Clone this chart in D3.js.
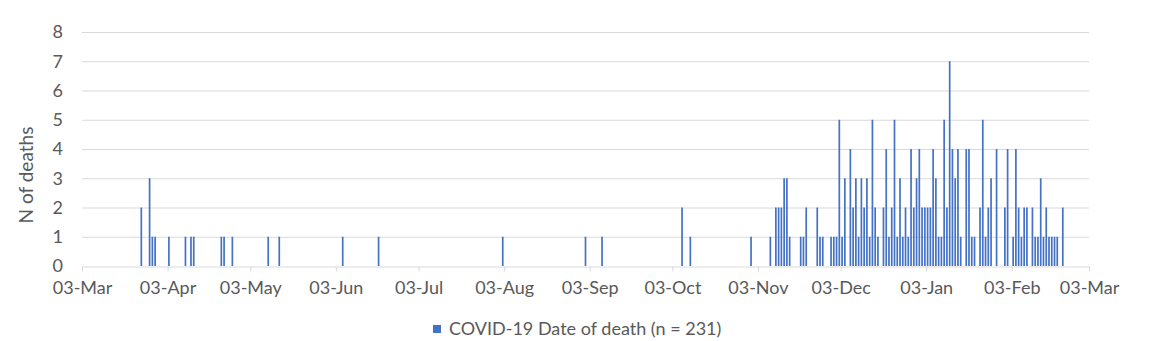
<!DOCTYPE html>
<html>
<head>
<meta charset="utf-8">
<script src="https://cdn.jsdelivr.net/npm/d3@7/dist/d3.min.js"></script>
<style>
  html, body { margin: 0; padding: 0; background: #fff; }
  svg text { font-family: Lato, "Open Sans", sans-serif; fill: #595959; }
</style>
</head>
<body>
<svg id="chart" width="1151" height="341"></svg>
<script>
// ---- data ----
const dates = [
  "2020-03-24","2020-03-27","2020-03-28","2020-03-29","2020-04-03","2020-04-09","2020-04-11","2020-04-12",
  "2020-04-22","2020-04-23","2020-04-26","2020-05-09","2020-05-13","2020-06-05","2020-06-18","2020-08-02",
  "2020-09-01","2020-09-07","2020-10-06","2020-10-09","2020-10-31",
  "2020-11-07","2020-11-09","2020-11-10","2020-11-11","2020-11-12","2020-11-13","2020-11-14","2020-11-18",
  "2020-11-19","2020-11-20","2020-11-24","2020-11-25","2020-11-26","2020-11-29","2020-11-30","2020-12-01",
  "2020-12-02","2020-12-03","2020-12-04","2020-12-06","2020-12-07","2020-12-08","2020-12-09","2020-12-10",
  "2020-12-11","2020-12-12","2020-12-13","2020-12-14","2020-12-15","2020-12-16","2020-12-18","2020-12-19",
  "2020-12-20","2020-12-21","2020-12-22","2020-12-23","2020-12-24","2020-12-25","2020-12-26","2020-12-27",
  "2020-12-28","2020-12-29","2020-12-30","2020-12-31",
  "2021-01-01","2021-01-02","2021-01-03","2021-01-04","2021-01-05","2021-01-06","2021-01-07","2021-01-08",
  "2021-01-09","2021-01-10","2021-01-11","2021-01-12","2021-01-13","2021-01-14","2021-01-15","2021-01-17",
  "2021-01-18","2021-01-19","2021-01-20","2021-01-22","2021-01-23","2021-01-24","2021-01-25","2021-01-26",
  "2021-01-28","2021-01-31","2021-02-01","2021-02-03","2021-02-04","2021-02-05","2021-02-06","2021-02-07",
  "2021-02-08","2021-02-10","2021-02-11","2021-02-12","2021-02-13","2021-02-14","2021-02-15","2021-02-16",
  "2021-02-17","2021-02-18","2021-02-19","2021-02-21"
];
const deaths = [
  2,3,1,1,1,1,1,1,
  1,1,1,1,1,1,1,1,
  1,1,2,1,1,
  1,2,2,2,3,3,1,1,
  1,2,2,1,1,1,1,1,
  5,1,3,4,2,3,1,3,
  2,3,1,5,2,1,2,4,
  1,2,5,1,3,1,2,1,
  4,2,3,4,
  2,2,2,2,4,3,1,1,
  5,2,7,4,3,4,1,4,
  4,1,1,2,5,1,2,3,
  4,2,4,1,4,2,1,2,
  2,2,1,1,3,1,2,1,
  1,1,1,2
];
const tickDates = [
  "2020-03-03","2020-04-03","2020-05-03","2020-06-03","2020-07-03","2020-08-03","2020-09-03",
  "2020-10-03","2020-11-03","2020-12-03","2021-01-03","2021-02-03","2021-03-03"
];
const yTicks = [0,1,2,3,4,5,6,7,8];
const seriesName = "COVID-19 Date of death (n = 231)";
const yTitle = "N of deaths";

// ---- chart ----
const parse = d3.utcParse("%Y-%m-%d");
const fmt = d3.utcFormat("%d-%b");
const data = dates.map((d, i) => ({ date: parse(d), value: deaths[i] }));

const svg = d3.select("#chart");
const mLeft = 82, mRight = 1089, mTop = 32, mBottom = 266;
const blue = "#4472C4", grid = "#D9D9D9";
const fs = "18px";

const x = d3.scaleUtc()
  .domain([parse(tickDates[0]), parse(tickDates[tickDates.length - 1])])
  .range([mLeft, mRight]);
const y = d3.scaleLinear().domain([0, 8]).range([mBottom, mTop]);

// gridlines
svg.append("g").selectAll("line")
  .data(yTicks.filter(v => v > 0))
  .join("line")
  .attr("x1", mLeft).attr("x2", mRight)
  .attr("y1", d => y(d) + 0.5).attr("y2", d => y(d) + 0.5)
  .attr("stroke", grid).attr("stroke-width", 1);

// y axis labels
const yAxis = d3.axisLeft(y).tickValues(yTicks).tickSize(0).tickPadding(19);
svg.append("g").attr("transform", `translate(${mLeft},0)`).call(yAxis)
  .call(g => g.select(".domain").remove())
  .call(g => g.selectAll("text").style("font-size", fs)
    .style("font-family", "Lato, 'Open Sans', sans-serif").attr("fill", "#595959"));

// bars
const halfDay = 12 * 3600 * 1000;
const bw = 1.7;
svg.append("g").selectAll("rect")
  .data(data)
  .join("rect")
  .attr("x", d => x(new Date(d.date.getTime() + halfDay)) - bw / 2)
  .attr("width", bw)
  .attr("y", d => y(d.value))
  .attr("height", d => y(0) - y(d.value))
  .attr("fill", blue);

// x axis
const xAxis = d3.axisBottom(x)
  .tickValues(tickDates.map(parse))
  .tickFormat(fmt)
  .tickSizeInner(5).tickSizeOuter(0).tickPadding(10);
svg.append("g").attr("transform", `translate(0,${mBottom + 0.5})`).call(xAxis)
  .call(g => g.select(".domain").attr("stroke", grid))
  .call(g => g.selectAll(".tick line").attr("stroke", grid))
  .call(g => g.selectAll("text").style("font-size", fs)
    .style("font-family", "Lato, 'Open Sans', sans-serif").attr("fill", "#595959"));

// y title
svg.append("text")
  .attr("transform", "translate(33,175) rotate(-90)")
  .attr("text-anchor", "middle")
  .style("font-size", "19px")
  .text(yTitle);

// legend
const legend = svg.append("g").attr("transform", "translate(433,0)");
legend.append("rect").attr("x", 0).attr("y", 325).attr("width", 8).attr("height", 8).attr("fill", blue);
legend.append("text").attr("x", 16).attr("y", 335).style("font-size", fs).text(seriesName);
</script>
</body>
</html>
